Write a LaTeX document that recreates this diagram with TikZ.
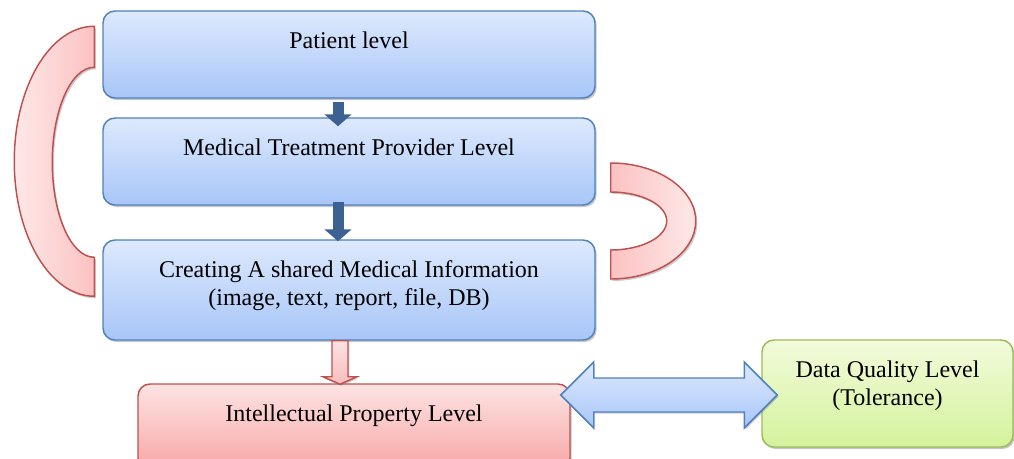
\documentclass[tikz,border=0pt]{standalone}
\usepackage{fontspec}
\setmainfont{Liberation Serif}
\usetikzlibrary{calc,shadows,arrows.meta}
\definecolor{lvltop}{HTML}{DDE9FD}
\definecolor{lvlbot}{HTML}{A8C6F8}
\definecolor{lvlline}{HTML}{4F81BD}
\definecolor{iptop}{HTML}{FDE3E3}
\definecolor{ipbot}{HTML}{F8A6A6}
\definecolor{ipline}{HTML}{C0504D}
\definecolor{looplight}{HTML}{FEE8E8}
\definecolor{loopdark}{HTML}{FBC2C2}
\definecolor{dqtop}{HTML}{F2FBDB}
\definecolor{dqbot}{HTML}{D4F29C}
\definecolor{dqline}{HTML}{9BBB59}
\definecolor{flowblue}{HTML}{3C6294}
\tikzset{
    level/.style = {draw=lvlline, line width=1.1pt, rounded corners=9pt,
                 top color=lvltop, bottom color=lvlbot, align=center,
                 inner xsep=4pt, inner ysep=14.75pt, text height=13pt,
                 font=\fontsize{18}{21}\selectfont,
                 drop shadow={shadow xshift=1.2pt, shadow yshift=-1.5pt, opacity=0.45}},
    iplevel/.style = {level, draw=ipline, top color=iptop, bottom color=ipbot},
    dqlevel/.style = {level, draw=dqline, top color=dqtop, bottom color=dqbot},
    flow/.style = {draw=flowblue, line width=8.25pt, -{Triangle[length=9pt, width=20pt]}},
    hand/.style = {draw=ipline, line width=1.1pt, top color=iptop, bottom color=ipbot!75,
                 drop shadow={shadow xshift=1pt, shadow yshift=-1.2pt, opacity=0.4}},
    link/.style = {draw=lvlline, line width=1.1pt, top color=lvltop, bottom color=lvlbot,
                 drop shadow={shadow xshift=1pt, shadow yshift=-1.2pt, opacity=0.4}},
    loopback/.style = {draw=ipline, line width=1.1pt,
                 drop shadow={shadow xshift=1.2pt, shadow yshift=-1.5pt, opacity=0.4}},
}
\begin{document}
\begin{tikzpicture}[x=0.75pt, y=-0.75pt]
 \useasboundingbox (0,0) rectangle (1014,458);
 % levels
 \node (pl) [level, minimum width=369pt, text depth=22.75pt] at (349,54.5) {Patient level};
 \node (mt) [level, minimum width=369pt, text depth=22.75pt] at (349,161.5) {Medical Treatment Provider Level};
 \node (sh) [level, minimum width=369pt, text depth=32.5pt] at (349,290) {\begin{tabular}[t]{@{}c@{}}
  Creating A shared Medical Information\\ (image, text, report, file, DB)
  \end{tabular}};
 \node (ip) [iplevel, minimum width=324pt, text depth=22pt] at (354,427) {Intellectual Property Level};
 \node (dq) [dqlevel, minimum width=188.25pt, text depth=37.75pt] at (887.5,393.5) {\begin{tabular}[t]{@{}c@{}}
  Data Quality Level\\ (Tolerance)
  \end{tabular}};

 % loops
 \draw[loopback, left color=looplight, right color=loopdark]
   ($(pl.north west)+(-8,16)$) arc[start angle=270, end angle=90, x radius=80, y radius=135]
   -- ++(0,-39) arc[start angle=90, end angle=270, x radius=42, y radius=95] -- cycle;
 \draw[loopback, left color=loopdark, right color=looplight]
   ($(mt.east)+(15,1.5)$) arc[start angle=-90, end angle=90, x radius=85, y radius=58]
   -- ++(0,-29) arc[start angle=90, end angle=-90, x radius=56, y radius=29] -- cycle;

 % arrows
 \draw[flow] ($(pl.south)+(-11,3)$) -- ($(mt.north)+(-11,9)$);
 \draw[flow] ($(mt.south)+(-11,-4)$) -- ($(sh.north)+(-11,2)$);
 \draw[hand] ($(sh.south)+(-17,0)$) -- ++(0,36) -- ++(-9,0) -- ($(ip.north)+(-14,1)$)
   -- ($(sh.south)+(8,36)$) -- ++(-9,0) -- ++(0,-36) -- cycle;
 \coordinate (lt) at ($(ip.east |- dq.west)+(-10,1.5)$);
 \coordinate (rt) at ($(dq.west)+(16,1.5)$);
 \draw[link] (lt) -- ++(33,-33) -- ++(0,16) -- ($(rt)+(-33,-17)$) -- ++(0,-16) -- (rt)
   -- ++(-33,33) -- ++(0,-16) -- ($(lt)+(33,17)$) -- ++(0,16) -- cycle;
\end{tikzpicture}
\end{document}
